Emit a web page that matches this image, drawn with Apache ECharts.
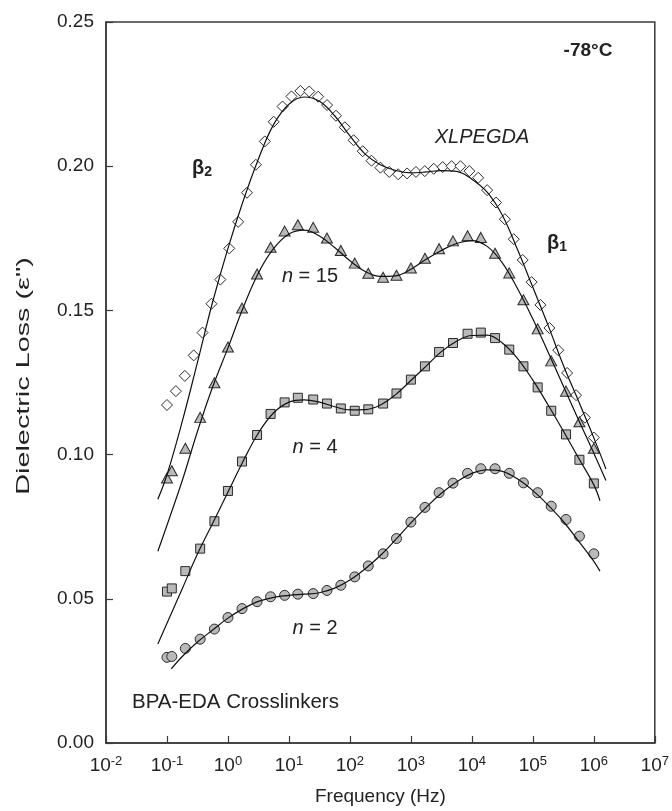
<!DOCTYPE html>
<html><head><meta charset="utf-8">
<script src="https://cdn.jsdelivr.net/npm/echarts@6/dist/echarts.min.js"></script>
<style>html,body{margin:0;padding:0;background:#fff}#c{width:672px;height:811px}</style>
</head><body><div id="c"></div>
<script>
const FONT = '"Liberation Sans", Arial, sans-serif';

// XLPEGDA (open diamonds)
const freqXL = [0.1,0.14,0.196,0.274,0.383,0.536,0.75,1.05,1.47,2.05,2.87,4.02,5.62,7.86,11.0,15.4,21.5,30.1,42.2,59.0,82.5,115,162,226,316,442,619,866,1210,1690,2370,3320,4640,6490,9090,12700,17800,24900,34800,48700,68100,95300,133000,187000,261000,365000,511000,715000,1000000];
const xlpegda = [0.1172,0.1220,0.1273,0.1344,0.1423,0.1523,0.1607,0.1715,0.1807,0.1908,0.2005,0.2086,0.2154,0.2207,0.2242,0.2261,0.2259,0.2241,0.2212,0.2175,0.2135,0.2090,0.2052,0.2019,0.1995,0.1980,0.1972,0.1975,0.1980,0.1983,0.1991,0.1997,0.2000,0.2000,0.1983,0.1960,0.1917,0.1874,0.1816,0.1747,0.1675,0.1598,0.1519,0.1439,0.1362,0.1283,0.1206,0.1128,0.1059];

// BPA-EDA crosslinkers
const freqN = [0.1,0.12,0.2,0.35,0.6,1.0,1.7,3.0,5.0,8.5,14,25,42,71,120,200,350,580,1000,1700,2900,4900,8500,14000,24000,41000,70000,120000,200000,350000,580000,1000000];
const n15 = [0.0919,0.0944,0.1022,0.1129,0.1249,0.1373,0.1508,0.1626,0.1719,0.1775,0.1797,0.1788,0.1751,0.1708,0.1664,0.1629,0.1615,0.1622,0.1647,0.1681,0.1714,0.1741,0.1759,0.1753,0.1698,0.1630,0.1537,0.1436,0.1325,0.1220,0.1114,0.1022];
const n4 = [0.0525,0.0536,0.0596,0.0674,0.0769,0.0874,0.0976,0.1068,0.1141,0.1181,0.1197,0.1191,0.1177,0.1160,0.1152,0.1157,0.1177,0.1212,0.1260,0.1306,0.1356,0.1387,0.1419,0.1423,0.1404,0.1364,0.1306,0.1233,0.1152,0.1070,0.0982,0.0900];
const n2 = [0.0297,0.0300,0.0328,0.0360,0.0395,0.0435,0.0466,0.0490,0.0507,0.0512,0.0516,0.0518,0.0529,0.0547,0.0576,0.0614,0.0656,0.0709,0.0766,0.0817,0.0868,0.0901,0.0935,0.0951,0.0951,0.0935,0.0902,0.0868,0.0821,0.0775,0.0717,0.0656];

// fitted curves
const fitFreqXL = [0.0708,0.1,0.178,0.316,0.562,1,1.78,3.16,5.62,10,17.8,31.6,56.2,100,178,316,562,1000,1780,3160,5620,10000,17800,31600,56200,100000,178000,316000,562000,1000000,1580000];
const fitXL = [0.0845,0.093,0.1115,0.132,0.153,0.1715,0.188,0.2025,0.2145,0.2215,0.224,0.2225,0.2175,0.2105,0.2042,0.2005,0.1985,0.1977,0.198,0.1985,0.1982,0.1955,0.191,0.183,0.171,0.158,0.1448,0.131,0.1185,0.1058,0.095];
const fitFreqN15 = [0.0708,0.1,0.178,0.316,0.562,1,1.78,3.16,5.62,10,17.8,31.6,56.2,100,178,316,562,1000,1780,3160,5620,10000,17800,31600,56200,100000,178000,316000,562000,1000000,1580000];
const fitN15 = [0.0665,0.0755,0.091,0.108,0.1235,0.137,0.151,0.163,0.1715,0.1765,0.1778,0.1758,0.1718,0.1672,0.1635,0.1618,0.162,0.1643,0.1677,0.1708,0.1732,0.1742,0.1722,0.1665,0.1575,0.147,0.1355,0.1238,0.112,0.1005,0.091];
const fitFreqN4 = [0.0708,0.1,0.178,0.316,0.562,1,1.78,3.16,5.62,10,17.8,31.6,56.2,100,178,316,562,1000,1780,3160,5620,10000,17800,31600,56200,100000,178000,316000,562000,1000000,1260000];
const fitN4 = [0.0343,0.0415,0.0535,0.0655,0.0762,0.087,0.0978,0.1075,0.1145,0.1182,0.119,0.1182,0.1166,0.1155,0.1156,0.1172,0.1208,0.1257,0.1307,0.1357,0.1393,0.1413,0.1414,0.1387,0.1333,0.1258,0.1172,0.1082,0.0988,0.0895,0.084];
const fitFreqN2 = [0.1175,0.178,0.316,0.562,1,1.78,3.16,5.62,10,17.8,31.6,56.2,100,178,316,562,1000,1780,3160,5620,10000,17800,31600,56200,100000,178000,316000,562000,1000000,1260000];
const fitN2 = [0.0257,0.0300,0.0350,0.0392,0.0433,0.0466,0.0491,0.0505,0.0512,0.0516,0.0521,0.0537,0.0565,0.0604,0.0650,0.0705,0.0763,0.0817,0.0866,0.0905,0.0935,0.0947,0.0942,0.0915,0.0875,0.0825,0.0768,0.0700,0.0630,0.0596];

const yTicks = [0, 0.05, 0.10, 0.15, 0.20, 0.25];

const pair = (xs, ys) => xs.map((x, i) => [x, ys[i]]);
const EDGE = '#2b2b2b';
const GRAY = '#b9b9b9';

function markers(name, xs, ys, symbol, size, fill) {
  return {
    name, type: 'scatter', data: pair(xs, ys), symbol, symbolSize: size, z: 3,
    itemStyle: { color: fill, borderColor: EDGE, borderWidth: 1, opacity: 1 },
    emphasis: { disabled: true }, silent: true
  };
}
function fit(name, xs, ys) {
  return {
    name, type: 'line', data: pair(xs, ys), showSymbol: false, symbol: 'none', smooth: 0.4, z: 4,
    lineStyle: { color: '#111', width: 1.2 }, emphasis: { disabled: true }, silent: true
  };
}

const chart = echarts.init(document.getElementById('c'), null, { renderer: 'canvas' });
const txt = (x, y, text, opts) => Object.assign({
  type: 'text', x, y, z: 10,
  style: Object.assign({ text, fill: '#222', font: '20px ' + FONT, align: 'center', verticalAlign: 'middle' }, opts || {})
});

chart.setOption({
  animation: false,
  backgroundColor: '#fff',
  grid: { left: 106, right: 14, top: 22, bottom: 65, show: true, borderColor: '#3a3a3a', borderWidth: 1.5, backgroundColor: 'transparent' },
  xAxis: {
    type: 'log', logBase: 10, min: 0.01, max: 1e7,
    name: 'Frequency (Hz)', nameLocation: 'middle', nameGap: 44,
    nameTextStyle: { fontFamily: FONT, fontSize: 19, color: '#222' },
    axisLine: { show: true, onZero: false, lineStyle: { color: '#3a3a3a', width: 1.5 } },
    axisTick: { show: true, inside: true, length: 7, lineStyle: { color: '#3a3a3a', width: 1.2 } },
    minorTick: { show: false }, splitLine: { show: false }, minorSplitLine: { show: false },
    axisLabel: {
      margin: 12, color: '#222',
      formatter: v => '{b|10}{s|' + Math.round(Math.log10(v)) + '}',
      rich: {
        b: { fontFamily: FONT, fontSize: 19, lineHeight: 22, color: '#222' },
        s: { fontFamily: FONT, fontSize: 13, lineHeight: 13, verticalAlign: 'top', color: '#222' }
      }
    }
  },
  yAxis: {
    type: 'value', min: 0, max: 0.25, interval: 0.05,
    axisLine: { show: true, lineStyle: { color: '#3a3a3a', width: 1.5 } },
    axisTick: { show: true, inside: true, length: 7, lineStyle: { color: '#3a3a3a', width: 1.2 } },
    splitLine: { show: false },
    axisLabel: { margin: 12, fontFamily: FONT, fontSize: 19, color: '#222',
      formatter: v => { const t = yTicks.find(k => Math.abs(k - v) < 1e-9); return (t === undefined ? v : t).toFixed(2); } }
  },
  series: [
    markers('XLPEGDA', freqXL, xlpegda, 'diamond', 11, '#ffffff'),
    markers('n = 15', freqN, n15, 'triangle', [11, 10], GRAY),
    markers('n = 4', freqN, n4, 'rect', 9, GRAY),
    markers('n = 2', freqN, n2, 'circle', 10, GRAY),
    fit('fit XLPEGDA', fitFreqXL, fitXL),
    fit('fit n = 15', fitFreqN15, fitN15),
    fit('fit n = 4', fitFreqN4, fitN4),
    fit('fit n = 2', fitFreqN2, fitN2)
  ],
  graphic: [
    // y-axis title (drawn stretched along its length, as in the original)
    { type: 'text', x: 24, y: 376, rotation: Math.PI / 2, scaleX: 1.6, z: 10,
      style: { text: 'Dielectric Loss (\u03b5")', font: '18px ' + FONT, fill: '#222', align: 'center', verticalAlign: 'middle' } },
    txt(588, 51, '-78°C', { font: 'bold 19px ' + FONT }),
    txt(482, 137, 'XLPEGDA', { font: 'italic 20px ' + FONT }),
    {
      type: 'text', x: 192, y: 168, z: 10,
      style: { text: '{g|\u03b2}{d|2}', verticalAlign: 'middle', align: 'left',
        rich: { g: { font: 'bold 20px ' + FONT, fill: '#222', lineHeight: 22 },
                d: { font: 'bold 14px ' + FONT, fill: '#222', lineHeight: 14, verticalAlign: 'bottom' } } }
    },
    {
      type: 'text', x: 547, y: 243, z: 10,
      style: { text: '{g|\u03b2}{d|1}', verticalAlign: 'middle', align: 'left',
        rich: { g: { font: 'bold 20px ' + FONT, fill: '#222', lineHeight: 22 },
                d: { font: 'bold 14px ' + FONT, fill: '#222', lineHeight: 14, verticalAlign: 'bottom' } } }
    },
    {
      type: 'text', x: 310, y: 276, z: 10,
      style: { text: '{i|n} = 15', font: '20px ' + FONT, fill: '#222', align: 'center', verticalAlign: 'middle',
        rich: { i: { font: 'italic 20px ' + FONT, fill: '#222' } } }
    },
    {
      type: 'text', x: 315, y: 447, z: 10,
      style: { text: '{i|n} = 4', font: '20px ' + FONT, fill: '#222', align: 'center', verticalAlign: 'middle',
        rich: { i: { font: 'italic 20px ' + FONT, fill: '#222' } } }
    },
    {
      type: 'text', x: 315, y: 628, z: 10,
      style: { text: '{i|n} = 2', font: '20px ' + FONT, fill: '#222', align: 'center', verticalAlign: 'middle',
        rich: { i: { font: 'italic 20px ' + FONT, fill: '#222' } } }
    },
    txt(132, 702, 'BPA-EDA Crosslinkers', { align: 'left', font: '20.5px ' + FONT })
  ]
});
</script></body></html>
